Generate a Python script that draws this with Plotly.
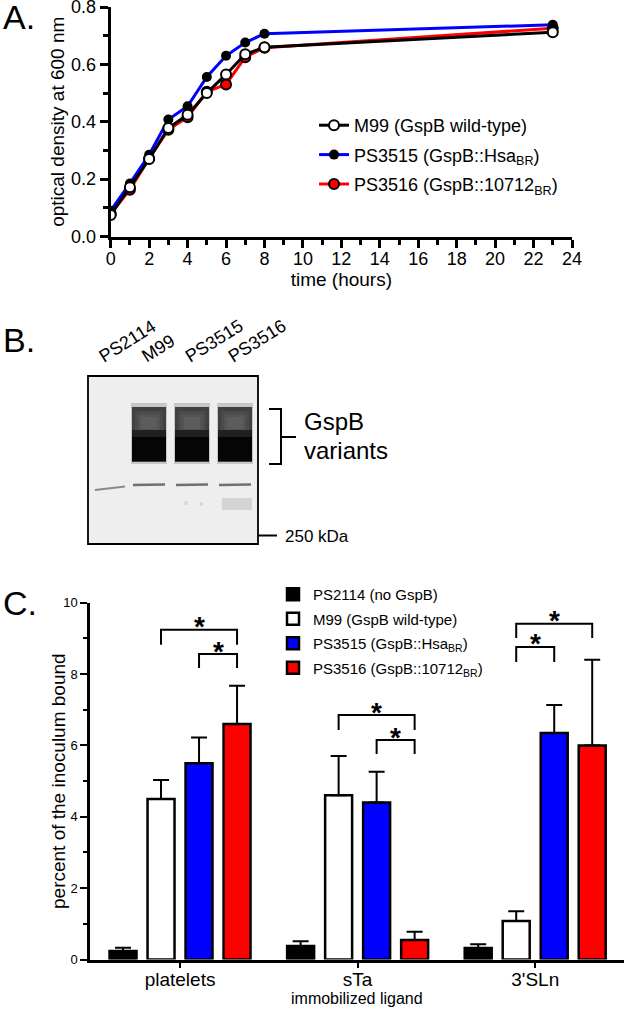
import plotly.graph_objects as go

W, H = 625, 1009
FONT = "Liberation Sans, Arial, Helvetica, sans-serif"


def px(x):
    return x / W


def py(y):
    return 1 - y / H


# ---------------- Panel A: growth curves ----------------
hours = [0, 1, 2, 3, 4, 5, 6, 7, 8, 23]
od_m99 = [0.075, 0.172, 0.270, 0.378, 0.424, 0.500, 0.565, 0.635, 0.660, 0.712]
od_ps3515 = [0.090, 0.185, 0.285, 0.408, 0.454, 0.556, 0.630, 0.676, 0.707, 0.738]
od_ps3516 = [0.080, 0.163, 0.272, 0.372, 0.416, 0.505, 0.530, 0.625, 0.658, 0.726]
growth_names = ["M99 (GspB wild-type)",
                "PS3515 (GspB::Hsa<sub>BR</sub>)",
                "PS3516 (GspB::10712<sub>BR</sub>)"]

# ---------------- Panel B: western blot ----------------
blot_lanes = ["PS2114", "M99", "PS3515", "PS3516"]
gspb_band = [False, True, True, True]

# ---------------- Panel C: binding ----------------
ligands = ["platelets", "sTa", "3'SLn"]
bind_names = ["PS2114 (no GspB)",
              "M99 (GspB wild-type)",
              "PS3515 (GspB::Hsa<sub>BR</sub>)",
              "PS3516 (GspB::10712<sub>BR</sub>)"]
bind_ps2114 = [0.24, 0.38, 0.32]
bind_m99 = [4.50, 4.60, 1.08]
bind_ps3515 = [5.50, 4.40, 6.35]
bind_ps3516 = [6.60, 0.55, 6.00]
err_ps2114 = [0.09, 0.13, 0.11]
err_m99 = [0.53, 1.10, 0.27]
err_ps3515 = [0.72, 0.86, 0.78]
err_ps3516 = [1.07, 0.23, 2.40]
bind_colors = ["#000000", "#ffffff", "#0000ff", "#ff0000"]
# significance brackets: (ligand index, bar a, bar b, top value, leg value)
sig_brackets = [
    (0, 1, 3, 9.24, 8.82),
    (0, 2, 3, 8.56, 8.17),
    (1, 1, 3, 6.85, 6.43),
    (1, 2, 3, 6.15, 5.76),
    (2, 1, 3, 9.41, 9.01),
    (2, 1, 2, 8.76, 8.34),
]

fig = go.Figure()

# Panel A traces (drawn red, blue, black; legend ordered by rank)
fig.add_trace(go.Scatter(
    x=hours, y=od_ps3516, mode="lines+markers", name=growth_names[2],
    line=dict(color="#ff0000", width=3),
    marker=dict(color="#ff0000", size=10, line=dict(color="black", width=2)),
    legend="legend", legendrank=3, legendgroup="g3", xaxis="x", yaxis="y"))
fig.add_trace(go.Scatter(
    x=hours, y=od_ps3515, mode="lines+markers", name=growth_names[1],
    line=dict(color="#0000ff", width=3),
    marker=dict(color="black", size=10, line=dict(color="black", width=0)),
    legend="legend", legendrank=2, legendgroup="g2", xaxis="x", yaxis="y"))
fig.add_trace(go.Scatter(
    x=hours, y=od_m99, mode="lines+markers", name=growth_names[0],
    line=dict(color="black", width=3),
    marker=dict(color="white", size=10, line=dict(color="black", width=2)),
    legend="legend", legendrank=1, legendgroup="g1", xaxis="x", yaxis="y"))

# Panel C traces
bind_vals = [bind_ps2114, bind_m99, bind_ps3515, bind_ps3516]
bind_errs = [err_ps2114, err_m99, err_ps3515, err_ps3516]
for k in range(4):
    fig.add_trace(go.Bar(
        x=list(range(len(ligands))), y=bind_vals[k], name=bind_names[k],
        marker=dict(color=bind_colors[k], line=dict(color="black", width=2.5)),
        error_y=dict(type="data", array=bind_errs[k],
                     arrayminus=[0] * len(ligands), symmetric=False,
                     color="black", thickness=2, width=8),
        legend="legend2", legendgroup="b%d" % k, xaxis="x2", yaxis="y2"))

BARGAP = 0.144
slot = (1 - BARGAP) / 4
offsets = [(k - 1.5) * slot for k in range(4)]

shapes = []
annotations = []

# significance brackets & stars
for (li, a, b, top, leg) in sig_brackets:
    xa = li + offsets[a]
    xb = li + offsets[b]
    shapes.append(dict(type="path", xref="x2", yref="y2",
                       path="M%f,%f L%f,%f L%f,%f L%f,%f" % (xa, leg, xa, top, xb, top, xb, leg),
                       line=dict(color="black", width=2)))
    annotations.append(dict(x=(xa + xb) / 2, y=top, xref="x2", yref="y2",
                            text="<b>*</b>", showarrow=False, yanchor="middle",
                            yshift=3, font=dict(size=28, family=FONT, color="black")))

# ---- Blot (panel B) ----
BX0, BX1, BY0, BY1 = 88, 258, 376, 544


def prect(x0, y0, x1, y1, fill, opacity=1.0, line_w=0, line_c="black"):
    shapes.append(dict(type="rect", xref="paper", yref="paper",
                       x0=px(x0), x1=px(x1), y0=py(y1), y1=py(y0),
                       fillcolor=fill, opacity=opacity,
                       line=dict(width=line_w, color=line_c)))


prect(BX0, BY0, BX1, BY1, "#eeeeee", 1.0, 1.8, "black")
lane_c = [106 + 43 * i for i in range(len(blot_lanes))]
for i, c in enumerate(lane_c):
    if gspb_band[i]:
        prect(c - 18, 403, c + 18, 464, "#8c8c8c", 0.4)
        prect(c - 17, 407, c + 17, 462, "#404040", 1.0)
        prect(c - 14, 411, c + 14, 435, "#4c4c4c", 0.8)
        prect(c - 11, 414, c + 11, 432, "#575757", 0.7)
        prect(c - 8, 417, c + 8, 429, "#626262", 0.6)
        prect(c - 17, 430, c + 17, 439, "#1c1c1c", 0.9)
        prect(c - 17, 437, c + 17, 461, "#050505", 1.0)
        shapes.append(dict(type="line", xref="paper", yref="paper",
                           x0=px(c - 16), x1=px(c + 16), y0=py(485), y1=py(484.5),
                           line=dict(color="#707070", width=2.5)))
    else:
        shapes.append(dict(type="line", xref="paper", yref="paper",
                           x0=px(c - 11), x1=px(c + 19), y0=py(490), y1=py(486.5),
                           line=dict(color="#8a8a8a", width=2)))
# faint smudges
prect(lane_c[3] - 13, 498, lane_c[3] + 17, 510, "#d4d4d4", 1.0)
prect(lane_c[2] - 8, 501, lane_c[2] - 4, 505, "#dddddd", 1.0)
prect(lane_c[2] + 8, 502, lane_c[2] + 11, 506, "#d8d8d8", 1.0)

# lane labels
for i, name in enumerate(blot_lanes):
    annotations.append(dict(x=px(lane_c[i] - 13), y=py(369), xref="paper", yref="paper",
                            text=name, showarrow=False, textangle=-32,
                            xanchor="left", yanchor="bottom",
                            font=dict(size=18, family=FONT, color="black")))

# curly bracket
shapes.append(dict(type="path", xref="paper", yref="paper",
                   path="M%f,%f L%f,%f L%f,%f L%f,%f M%f,%f L%f,%f L%f,%f" % (
                       px(269), py(409), px(281), py(409), px(281), py(437), px(296), py(437),
                       px(281), py(437), px(281), py(464), px(269), py(464)),
                   line=dict(color="black", width=2)))
annotations.append(dict(x=px(302), y=py(421), xref="paper", yref="paper", text="GspB",
                        showarrow=False, xanchor="left", yanchor="middle",
                        font=dict(size=24, family=FONT, color="black")))
annotations.append(dict(x=px(302), y=py(451), xref="paper", yref="paper", text="variants",
                        showarrow=False, xanchor="left", yanchor="middle",
                        font=dict(size=24, family=FONT, color="black")))
# 250 kDa marker
shapes.append(dict(type="line", xref="paper", yref="paper",
                   x0=px(258), x1=px(277), y0=py(535.5), y1=py(535.5),
                   line=dict(color="black", width=2)))
annotations.append(dict(x=px(283), y=py(536), xref="paper", yref="paper", text="250 kDa",
                        showarrow=False, xanchor="left", yanchor="middle",
                        font=dict(size=17, family=FONT, color="black")))

# axis titles of panel C placed as text
annotations.append(dict(x=px(357), y=py(998), xref="paper", yref="paper",
                        text="immobilized ligand", showarrow=False,
                        xanchor="center", yanchor="middle",
                        font=dict(size=16, family=FONT, color="black")))
annotations.append(dict(x=px(58), y=py(781), xref="paper", yref="paper",
                        text="percent of the inoculum bound", showarrow=False,
                        textangle=-90, xanchor="center", yanchor="middle",
                        font=dict(size=19, family=FONT, color="black")))

# panel letters
for lab, yy in [("A.", 17), ("B.", 340), ("C.", 603)]:
    annotations.append(dict(x=px(1), y=py(yy), xref="paper", yref="paper", text=lab,
                            showarrow=False, xanchor="left", yanchor="middle",
                            font=dict(size=34, family=FONT, color="black")))

axis_common = dict(showgrid=False, zeroline=False, showline=True, linecolor="black",
                   ticks="outside", tickcolor="black", automargin=False,
                   ticklabeloverflow="allow")

fig.update_layout(
    template="none",
    width=W, height=H, margin=dict(l=0, r=0, t=0, b=0, pad=0, autoexpand=False),
    paper_bgcolor="white", plot_bgcolor="rgba(0,0,0,0)",
    font=dict(family=FONT, color="black"),
    barmode="group", bargap=BARGAP, bargroupgap=0.29,
    xaxis=dict(domain=[px(110.7), px(572)], range=[0, 24], anchor="y",
               tickvals=list(range(0, 25, 2)), ticklen=8, tickwidth=2.5, linewidth=3,
               tickfont=dict(size=18), ticklabelstandoff=-4,
               minor=dict(dtick=1, ticklen=5, tickwidth=2.5, ticks="outside", tickcolor="black"),
               title=dict(text="time (hours)", font=dict(size=19), standoff=2),
               **axis_common),
    yaxis=dict(domain=[py(236.5), py(7)], range=[0, 0.8], anchor="x",
               dtick=0.2, tickformat=".1f", ticklen=8, tickwidth=2.5, linewidth=3,
               tickfont=dict(size=18),
               minor=dict(dtick=0.1, ticklen=5, tickwidth=2.5, ticks="outside", tickcolor="black"),
               title=dict(text="optical density at 600 nm", font=dict(size=19), standoff=2),
               **axis_common),
    xaxis2=dict(domain=[px(90), px(624)], range=[-0.507, 2.5], anchor="y2",
                tickvals=list(range(len(ligands))), ticktext=ligands,
                ticklen=6, tickwidth=2, linewidth=2.5, tickfont=dict(size=19),
                ticklabelstandoff=-5,
                **axis_common),
    yaxis2=dict(domain=[py(959.5), py(602.7)], range=[0, 10], anchor="x2",
                dtick=2, ticklen=7, tickwidth=2, linewidth=2.5, tickfont=dict(size=13),
                minor=dict(dtick=1, ticklen=4, tickwidth=2, ticks="outside", tickcolor="black"),
                **axis_common),
    legend=dict(x=px(314), y=py(107), xanchor="left", yanchor="top",
                font=dict(size=18, family=FONT), bgcolor="rgba(0,0,0,0)",
                traceorder="grouped", tracegroupgap=3),
    legend2=dict(x=px(273), y=py(578), xanchor="left", yanchor="top",
                 font=dict(size=15, family=FONT), bgcolor="rgba(0,0,0,0)",
                 traceorder="grouped", tracegroupgap=2),
    shapes=shapes, annotations=annotations,
)

# remove the browser's default page margin so the figure sits at the window origin
fig.write_html("out.html", config={"displayModeBar": False},
               post_script="document.body.style.margin='0';document.body.style.overflow='hidden';")
